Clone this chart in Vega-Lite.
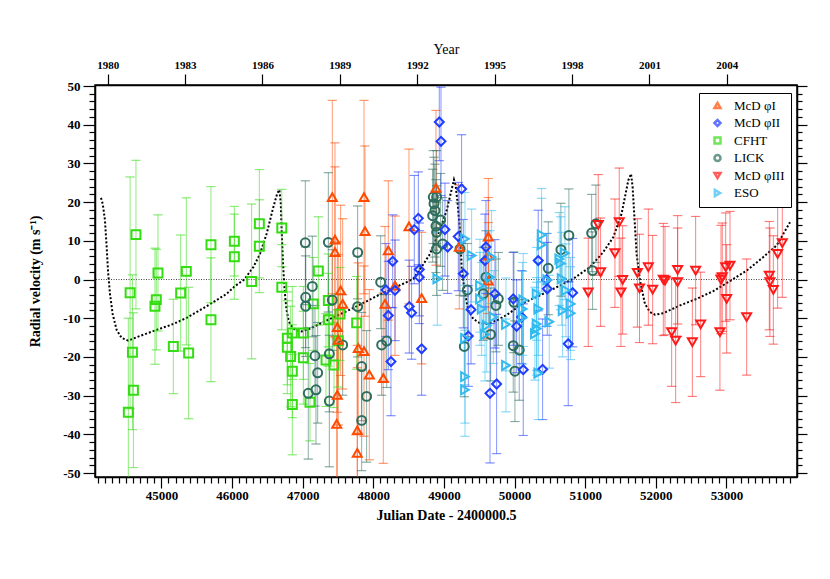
{
  "$schema": "https://vega.github.io/schema/vega-lite/v6.json",
  "width": 702,
  "height": 392,
  "autosize": "none",
  "padding": {"left": 95, "top": 85, "right": 33, "bottom": 102},
  "background": "white",
  "config": {
    "font": "Liberation Serif",
    "view": {"stroke": "black", "strokeWidth": 1.5},
    "axis": {
      "grid": false,
      "domainColor": "black",
      "domainWidth": 1.5,
      "tickColor": "black",
      "tickWidth": 1.2,
      "labelColor": "black",
      "titleColor": "black",
      "labelFont": "Liberation Serif",
      "titleFont": "Liberation Serif"
    }
  },
  "datasets": {
    "obs": [
      {"s": "CFHT", "t": 44532, "v": -34.3, "lo": -58, "hi": -10},
      {"s": "CFHT", "t": 44557, "v": -3.4, "lo": -33.4, "hi": 26.5},
      {"s": "CFHT", "t": 44590, "v": -18.8, "lo": -38.8, "hi": 1.2},
      {"s": "CFHT", "t": 44604, "v": -28.6, "lo": -48.6, "hi": -8.6},
      {"s": "CFHT", "t": 44640, "v": 11.6, "lo": -7.6, "hi": 30.8},
      {"s": "CFHT", "t": 44909, "v": -6.9, "lo": -21.9, "hi": 8.1},
      {"s": "CFHT", "t": 44928, "v": -5.2, "lo": -18.2, "hi": 7.8},
      {"s": "CFHT", "t": 44952, "v": 1.7, "lo": -13.3, "hi": 16.7},
      {"s": "CFHT", "t": 45169, "v": -17.3, "lo": -29.5, "hi": -5.1},
      {"s": "CFHT", "t": 45273, "v": -3.5, "lo": -18.5, "hi": 11.5},
      {"s": "CFHT", "t": 45353, "v": 2.1, "lo": -16.9, "hi": 21.1},
      {"s": "CFHT", "t": 45386, "v": -19.0, "lo": -36.0, "hi": -2.0},
      {"s": "CFHT", "t": 45702, "v": 9.0, "lo": -6.0, "hi": 24.0},
      {"s": "CFHT", "t": 45702, "v": -10.4, "lo": -26.4, "hi": 5.6},
      {"s": "CFHT", "t": 46033, "v": 9.9, "lo": 0.9, "hi": 18.9},
      {"s": "CFHT", "t": 46033, "v": 5.9, "lo": -5.1, "hi": 16.9},
      {"s": "CFHT", "t": 46278, "v": -0.5, "lo": -20.5, "hi": 19.5},
      {"s": "CFHT", "t": 46387, "v": 14.4, "lo": 0.4, "hi": 28.4},
      {"s": "CFHT", "t": 46387, "v": 8.6, "lo": -3.4, "hi": 20.6},
      {"s": "CFHT", "t": 46705, "v": 13.3, "lo": 3.3, "hi": 23.3},
      {"s": "CFHT", "t": 46705, "v": -2.0, "lo": -13.0, "hi": 9.0},
      {"s": "CFHT", "t": 46854, "v": -13.8, "lo": -25.8, "hi": -1.8},
      {"s": "CFHT", "t": 46783, "v": -15.2, "lo": -27.2, "hi": -3.2},
      {"s": "CFHT", "t": 46783, "v": -17.5, "lo": -29.5, "hi": -5.5},
      {"s": "CFHT", "t": 46830, "v": -19.9, "lo": -32.9, "hi": -6.9},
      {"s": "CFHT", "t": 46854, "v": -23.7, "lo": -35.7, "hi": -11.7},
      {"s": "CFHT", "t": 46854, "v": -32.3, "lo": -45.3, "hi": -19.3},
      {"s": "CFHT", "t": 47010, "v": -13.8, "lo": -25.8, "hi": -1.8},
      {"s": "CFHT", "t": 47010, "v": -20.2, "lo": -32.2, "hi": -8.2},
      {"s": "CFHT", "t": 47222, "v": 2.2, "lo": -11.8, "hi": 16.2},
      {"s": "CFHT", "t": 47151, "v": -6.3, "lo": -18.3, "hi": 5.7},
      {"s": "CFHT", "t": 47104, "v": -31.7, "lo": -41.7, "hi": -21.7},
      {"s": "CFHT", "t": 47364, "v": -10.4, "lo": -22.4, "hi": 1.6},
      {"s": "CFHT", "t": 47364, "v": -5.4, "lo": -17.4, "hi": 6.6},
      {"s": "CFHT", "t": 47331, "v": -20.8, "lo": -32.8, "hi": -8.8},
      {"s": "CFHT", "t": 47444, "v": -22.1, "lo": -33.1, "hi": -11.1},
      {"s": "CFHT", "t": 47505, "v": -15.8, "lo": -27.8, "hi": -3.8},
      {"s": "CFHT", "t": 47529, "v": -8.9, "lo": -20.9, "hi": 3.1},
      {"s": "CFHT", "t": 47765, "v": -11.2, "lo": -23.2, "hi": 0.8},
      {"s": "LICK", "t": 47038, "v": 9.5, "lo": -6.5, "hi": 25.5},
      {"s": "LICK", "t": 47137, "v": -1.8, "lo": -14.8, "hi": 11.2},
      {"s": "LICK", "t": 47043, "v": -4.6, "lo": -17.6, "hi": 8.4},
      {"s": "LICK", "t": 47043, "v": -6.9, "lo": -19.9, "hi": 6.1},
      {"s": "LICK", "t": 47175, "v": -19.7, "lo": -32.7, "hi": -6.7},
      {"s": "LICK", "t": 47213, "v": -24.1, "lo": -37.1, "hi": -11.1},
      {"s": "LICK", "t": 47080, "v": -29.4, "lo": -46.4, "hi": -12.4},
      {"s": "LICK", "t": 47189, "v": -28.5, "lo": -42.5, "hi": -14.5},
      {"s": "LICK", "t": 47364, "v": 9.6, "lo": -8.4, "hi": 27.6},
      {"s": "LICK", "t": 47420, "v": -5.3, "lo": -18.3, "hi": 7.7},
      {"s": "LICK", "t": 47378, "v": -19.2, "lo": -34.2, "hi": -4.2},
      {"s": "LICK", "t": 47378, "v": -31.4, "lo": -48.4, "hi": -14.4},
      {"s": "LICK", "t": 47567, "v": -16.9, "lo": -29.9, "hi": -3.9},
      {"s": "LICK", "t": 47779, "v": 7.0, "lo": -5.0, "hi": 19.0},
      {"s": "LICK", "t": 47779, "v": -7.0, "lo": -20.0, "hi": 6.0},
      {"s": "LICK", "t": 47836, "v": -22.5, "lo": -36.5, "hi": -8.5},
      {"s": "LICK", "t": 47906, "v": -30.2, "lo": -47.2, "hi": -13.2},
      {"s": "LICK", "t": 47836, "v": -36.4, "lo": -49.4, "hi": -23.4},
      {"s": "LICK", "t": 48105, "v": -0.7, "lo": -12.7, "hi": 11.3},
      {"s": "LICK", "t": 48119, "v": -16.9, "lo": -29.9, "hi": -3.9},
      {"s": "LICK", "t": 48190, "v": -15.9, "lo": -27.9, "hi": -3.9},
      {"s": "LICK", "t": 48841, "v": 16.5, "lo": 4.5, "hi": 28.5},
      {"s": "LICK", "t": 48850, "v": 21.3, "lo": 9.3, "hi": 33.3},
      {"s": "LICK", "t": 48860, "v": 19.6, "lo": 7.6, "hi": 31.6},
      {"s": "LICK", "t": 48874, "v": 17.8, "lo": 5.8, "hi": 29.8},
      {"s": "LICK", "t": 48888, "v": 13.8, "lo": 1.8, "hi": 25.8},
      {"s": "LICK", "t": 48897, "v": 21.3, "lo": 9.3, "hi": 33.3},
      {"s": "LICK", "t": 48897, "v": 12.2, "lo": 0.2, "hi": 24.2},
      {"s": "LICK", "t": 48897, "v": 7.9, "lo": -4.1, "hi": 19.9},
      {"s": "LICK", "t": 48954, "v": 15.4, "lo": 3.4, "hi": 27.4},
      {"s": "LICK", "t": 48982, "v": 9.2, "lo": -2.8, "hi": 21.2},
      {"s": "LICK", "t": 49228, "v": 7.9, "lo": -4.1, "hi": 19.9},
      {"s": "LICK", "t": 49332, "v": -2.7, "lo": -14.7, "hi": 9.3},
      {"s": "LICK", "t": 49289, "v": -17.3, "lo": -30.3, "hi": -4.3},
      {"s": "LICK", "t": 49558, "v": -3.7, "lo": -15.7, "hi": 8.3},
      {"s": "LICK", "t": 49596, "v": 0.6, "lo": -11.4, "hi": 12.6},
      {"s": "LICK", "t": 49662, "v": -14.2, "lo": -26.2, "hi": -2.2},
      {"s": "LICK", "t": 49737, "v": -6.7, "lo": -18.7, "hi": 5.3},
      {"s": "LICK", "t": 49771, "v": -5.0, "lo": -17.0, "hi": 7.0},
      {"s": "LICK", "t": 49992, "v": -5.9, "lo": -18.9, "hi": 7.1},
      {"s": "LICK", "t": 49982, "v": -17.1, "lo": -29.1, "hi": -5.1},
      {"s": "LICK", "t": 50067, "v": -18.2, "lo": -31.2, "hi": -5.2},
      {"s": "LICK", "t": 50006, "v": -23.7, "lo": -36.7, "hi": -10.7},
      {"s": "LICK", "t": 50478, "v": 2.9, "lo": -9.1, "hi": 14.9},
      {"s": "LICK", "t": 50657, "v": 7.7, "lo": -4.3, "hi": 19.7},
      {"s": "LICK", "t": 50770, "v": 11.4, "lo": -0.6, "hi": 23.4},
      {"s": "LICK", "t": 51092, "v": 12.0, "lo": 2.0, "hi": 22.0},
      {"s": "LICK", "t": 51153, "v": 14.4, "lo": 4.4, "hi": 24.4},
      {"s": "LICK", "t": 51106, "v": 2.3, "lo": -7.7, "hi": 12.3},
      {"s": "McD φI", "t": 47420, "v": 21.3, "lo": -3.7, "hi": 46.3},
      {"s": "McD φI", "t": 47869, "v": 21.3, "lo": -3.7, "hi": 46.3},
      {"s": "McD φI", "t": 47458, "v": 10.3, "lo": -14.7, "hi": 35.3},
      {"s": "McD φI", "t": 47458, "v": 7.1, "lo": -14.9, "hi": 29.1},
      {"s": "McD φI", "t": 47883, "v": 12.5, "lo": -9.5, "hi": 34.5},
      {"s": "McD φI", "t": 47538, "v": -2.8, "lo": -24.8, "hi": 19.2},
      {"s": "McD φI", "t": 47567, "v": -6.3, "lo": -28.3, "hi": 15.7},
      {"s": "McD φI", "t": 47491, "v": -12.3, "lo": -34.3, "hi": 9.7},
      {"s": "McD φI", "t": 47505, "v": -15.6, "lo": -37.6, "hi": 6.4},
      {"s": "McD φI", "t": 47491, "v": -29.8, "lo": -51.8, "hi": -7.8},
      {"s": "McD φI", "t": 47482, "v": -37.3, "lo": -59.3, "hi": -15.3},
      {"s": "McD φI", "t": 47788, "v": -17.7, "lo": -39.7, "hi": 4.3},
      {"s": "McD φI", "t": 47869, "v": -18.5, "lo": -40.5, "hi": 3.5},
      {"s": "McD φI", "t": 47944, "v": -24.6, "lo": -46.6, "hi": -2.6},
      {"s": "McD φI", "t": 47774, "v": -39.0, "lo": -61.0, "hi": -17.0},
      {"s": "McD φI", "t": 47774, "v": -44.8, "lo": -66.8, "hi": -22.8},
      {"s": "McD φI", "t": 48213, "v": 7.5, "lo": -10.5, "hi": 25.5},
      {"s": "McD φI", "t": 48308, "v": -1.6, "lo": -19.6, "hi": 16.4},
      {"s": "McD φI", "t": 48166, "v": -6.3, "lo": -26.3, "hi": 13.7},
      {"s": "McD φI", "t": 48142, "v": -25.5, "lo": -47.5, "hi": -3.5},
      {"s": "McD φI", "t": 48506, "v": 13.7, "lo": -6.3, "hi": 33.7},
      {"s": "McD φI", "t": 48685, "v": -4.8, "lo": -21.8, "hi": 12.2},
      {"s": "McD φI", "t": 48888, "v": 23.7, "lo": 3.7, "hi": 43.7},
      {"s": "McD φI", "t": 49218, "v": 8.4, "lo": -7.6, "hi": 24.4},
      {"s": "McD φI", "t": 49629, "v": 11.1, "lo": -3.9, "hi": 26.1},
      {"s": "McD φI", "t": 49629, "v": 6.2, "lo": -8.8, "hi": 21.2},
      {"s": "McD φI", "t": 49629, "v": -0.3, "lo": -15.3, "hi": 14.7},
      {"s": "McD φII", "t": 48180, "v": -2.7, "lo": -14.7, "hi": 9.3},
      {"s": "McD φII", "t": 48275, "v": 4.7, "lo": -7.3, "hi": 16.7},
      {"s": "McD φII", "t": 48308, "v": -2.8, "lo": -15.8, "hi": 10.2},
      {"s": "McD φII", "t": 48213, "v": -9.3, "lo": -23.3, "hi": 4.7},
      {"s": "McD φII", "t": 48251, "v": -21.2, "lo": -35.2, "hi": -7.2},
      {"s": "McD φII", "t": 48581, "v": 12.9, "lo": -1.1, "hi": 26.9},
      {"s": "McD φII", "t": 48638, "v": 15.8, "lo": 3.8, "hi": 27.8},
      {"s": "McD φII", "t": 48652, "v": 2.6, "lo": -9.4, "hi": 14.6},
      {"s": "McD φII", "t": 48652, "v": 0.6, "lo": -11.4, "hi": 12.6},
      {"s": "McD φII", "t": 48510, "v": -7.0, "lo": -19.0, "hi": 5.0},
      {"s": "McD φII", "t": 48543, "v": -8.6, "lo": -20.6, "hi": 3.4},
      {"s": "McD φII", "t": 48685, "v": -17.9, "lo": -29.9, "hi": -5.9},
      {"s": "McD φII", "t": 48935, "v": 40.7, "lo": 30.7, "hi": 50.7},
      {"s": "McD φII", "t": 48959, "v": 35.7, "lo": 21.7, "hi": 49.7},
      {"s": "McD φII", "t": 49015, "v": 12.9, "lo": 0.9, "hi": 24.9},
      {"s": "McD φII", "t": 49053, "v": 8.4, "lo": -3.6, "hi": 20.4},
      {"s": "McD φII", "t": 49251, "v": 23.4, "lo": 9.4, "hi": 37.4},
      {"s": "McD φII", "t": 49204, "v": 11.1, "lo": -2.9, "hi": 25.1},
      {"s": "McD φII", "t": 49275, "v": 1.5, "lo": -12.5, "hi": 15.5},
      {"s": "McD φII", "t": 49384, "v": -7.8, "lo": -21.8, "hi": 6.2},
      {"s": "McD φII", "t": 49346, "v": -14.6, "lo": -27.6, "hi": -1.6},
      {"s": "McD φII", "t": 49596, "v": 8.4, "lo": -3.6, "hi": 20.4},
      {"s": "McD φII", "t": 49582, "v": 4.9, "lo": -7.1, "hi": 16.9},
      {"s": "McD φII", "t": 49653, "v": -29.4, "lo": -47.4, "hi": -11.4},
      {"s": "McD φII", "t": 49747, "v": -27.0, "lo": -45.0, "hi": -9.0},
      {"s": "McD φII", "t": 49723, "v": -3.7, "lo": -17.7, "hi": 10.3},
      {"s": "McD φII", "t": 49982, "v": -5.0, "lo": -17.0, "hi": 7.0},
      {"s": "McD φII", "t": 50030, "v": -12.1, "lo": -24.1, "hi": -0.1},
      {"s": "McD φII", "t": 50100, "v": -9.7, "lo": -21.7, "hi": 2.3},
      {"s": "McD φII", "t": 50124, "v": -23.3, "lo": -40.3, "hi": -6.3},
      {"s": "McD φII", "t": 50336, "v": 4.9, "lo": -8.1, "hi": 17.9},
      {"s": "McD φII", "t": 50454, "v": -0.1, "lo": -12.1, "hi": 11.9},
      {"s": "McD φII", "t": 50464, "v": -2.4, "lo": -14.4, "hi": 9.6},
      {"s": "McD φII", "t": 50398, "v": -23.2, "lo": -36.2, "hi": -10.2},
      {"s": "McD φII", "t": 50761, "v": -16.6, "lo": -32.6, "hi": -0.6},
      {"s": "McD φII", "t": 50823, "v": -3.4, "lo": -17.4, "hi": 10.6},
      {"s": "ESO", "t": 48907, "v": 0.2, "lo": -11.8, "hi": 12.2},
      {"s": "ESO", "t": 49299, "v": 10.5, "lo": -1.5, "hi": 22.5},
      {"s": "ESO", "t": 49393, "v": 6.2, "lo": -5.8, "hi": 18.2},
      {"s": "ESO", "t": 49299, "v": -15.2, "lo": -27.2, "hi": -3.2},
      {"s": "ESO", "t": 49299, "v": -25.1, "lo": -37.1, "hi": -13.1},
      {"s": "ESO", "t": 49299, "v": -28.5, "lo": -40.5, "hi": -16.5},
      {"s": "ESO", "t": 49511, "v": -1.6, "lo": -13.6, "hi": 10.4},
      {"s": "ESO", "t": 49511, "v": -5.0, "lo": -17.0, "hi": 7.0},
      {"s": "ESO", "t": 49535, "v": -7.6, "lo": -19.6, "hi": 4.4},
      {"s": "ESO", "t": 49606, "v": -11.9, "lo": -23.9, "hi": 0.1},
      {"s": "ESO", "t": 49582, "v": -14.2, "lo": -26.2, "hi": -2.2},
      {"s": "ESO", "t": 49676, "v": 5.8, "lo": -6.2, "hi": 17.8},
      {"s": "ESO", "t": 49653, "v": 0.6, "lo": -11.4, "hi": 12.6},
      {"s": "ESO", "t": 49700, "v": -9.7, "lo": -21.7, "hi": 2.3},
      {"s": "ESO", "t": 49879, "v": -11.6, "lo": -23.6, "hi": 0.4},
      {"s": "ESO", "t": 49879, "v": -22.2, "lo": -34.2, "hi": -10.2},
      {"s": "ESO", "t": 50124, "v": -5.3, "lo": -17.3, "hi": 6.7},
      {"s": "ESO", "t": 50115, "v": -7.6, "lo": -19.6, "hi": 4.4},
      {"s": "ESO", "t": 50115, "v": -9.9, "lo": -21.9, "hi": 2.1},
      {"s": "ESO", "t": 50313, "v": -3.7, "lo": -15.7, "hi": 8.3},
      {"s": "ESO", "t": 50336, "v": -7.6, "lo": -19.6, "hi": 4.4},
      {"s": "ESO", "t": 50313, "v": -11.5, "lo": -23.5, "hi": 0.5},
      {"s": "ESO", "t": 50313, "v": -12.7, "lo": -24.7, "hi": -0.7},
      {"s": "ESO", "t": 50289, "v": -14.0, "lo": -26.0, "hi": -2.0},
      {"s": "ESO", "t": 50336, "v": -24.2, "lo": -36.2, "hi": -12.2},
      {"s": "ESO", "t": 50384, "v": 11.5, "lo": -0.5, "hi": 23.5},
      {"s": "ESO", "t": 50384, "v": 9.0, "lo": -3.0, "hi": 21.0},
      {"s": "ESO", "t": 50464, "v": -0.1, "lo": -12.1, "hi": 11.9},
      {"s": "ESO", "t": 50492, "v": -10.9, "lo": -22.9, "hi": 1.1},
      {"s": "ESO", "t": 50634, "v": 5.3, "lo": -6.7, "hi": 17.3},
      {"s": "ESO", "t": 50653, "v": 4.2, "lo": -7.8, "hi": 16.2},
      {"s": "ESO", "t": 50714, "v": 6.8, "lo": -5.2, "hi": 18.8},
      {"s": "ESO", "t": 50667, "v": 0.2, "lo": -11.8, "hi": 12.2},
      {"s": "ESO", "t": 50728, "v": -2.8, "lo": -14.8, "hi": 9.2},
      {"s": "ESO", "t": 50681, "v": -8.0, "lo": -20.0, "hi": 4.0},
      {"s": "ESO", "t": 50794, "v": -6.3, "lo": -18.3, "hi": 5.7},
      {"s": "ESO", "t": 50794, "v": -8.7, "lo": -20.7, "hi": 3.3},
      {"s": "McD φIII", "t": 51044, "v": -3.3, "lo": -17.3, "hi": 10.7},
      {"s": "McD φIII", "t": 51186, "v": 14.1, "lo": 1.1, "hi": 27.1},
      {"s": "McD φIII", "t": 51219, "v": 1.9, "lo": -12.1, "hi": 15.9},
      {"s": "McD φIII", "t": 51422, "v": 6.8, "lo": -7.2, "hi": 20.8},
      {"s": "McD φIII", "t": 51483, "v": 14.8, "lo": 0.8, "hi": 28.8},
      {"s": "McD φIII", "t": 51531, "v": -0.1, "lo": -14.1, "hi": 13.9},
      {"s": "McD φIII", "t": 51507, "v": -3.3, "lo": -17.3, "hi": 10.7},
      {"s": "McD φIII", "t": 51740, "v": 1.7, "lo": -12.3, "hi": 15.7},
      {"s": "McD φIII", "t": 51770, "v": -2.3, "lo": -16.3, "hi": 11.7},
      {"s": "McD φIII", "t": 51895, "v": 3.2, "lo": -11.8, "hi": 18.2},
      {"s": "McD φIII", "t": 51956, "v": -2.6, "lo": -16.6, "hi": 11.4},
      {"s": "McD φIII", "t": 52107, "v": 0.0, "lo": -14.5, "hi": 14.5},
      {"s": "McD φIII", "t": 52131, "v": -0.3, "lo": -14.3, "hi": 13.7},
      {"s": "McD φIII", "t": 52225, "v": -13.6, "lo": -27.6, "hi": 0.4},
      {"s": "McD φIII", "t": 52282, "v": -15.8, "lo": -31.8, "hi": 0.2},
      {"s": "McD φIII", "t": 52310, "v": 2.5, "lo": -11.5, "hi": 16.5},
      {"s": "McD φIII", "t": 52310, "v": -0.7, "lo": -14.7, "hi": 13.3},
      {"s": "McD φIII", "t": 52518, "v": -16.2, "lo": -30.2, "hi": -2.2},
      {"s": "McD φIII", "t": 52565, "v": 2.3, "lo": -11.7, "hi": 16.3},
      {"s": "McD φIII", "t": 52636, "v": -11.6, "lo": -25.1, "hi": 1.9},
      {"s": "McD φIII", "t": 52909, "v": -13.6, "lo": -28.6, "hi": 1.4},
      {"s": "McD φIII", "t": 52924, "v": 0.0, "lo": -14.0, "hi": 14.0},
      {"s": "McD φIII", "t": 52942, "v": 0.6, "lo": -13.4, "hi": 14.6},
      {"s": "McD φIII", "t": 52990, "v": 3.2, "lo": -10.8, "hi": 17.2},
      {"s": "McD φIII", "t": 53051, "v": 3.6, "lo": -10.4, "hi": 17.6},
      {"s": "McD φIII", "t": 53004, "v": -5.0, "lo": -19.0, "hi": 9.0},
      {"s": "McD φIII", "t": 53287, "v": -9.7, "lo": -24.7, "hi": 5.3},
      {"s": "McD φIII", "t": 53608, "v": 1.0, "lo": -13.0, "hi": 15.0},
      {"s": "McD φIII", "t": 53617, "v": -0.7, "lo": -14.7, "hi": 13.3},
      {"s": "McD φIII", "t": 53665, "v": -2.7, "lo": -16.7, "hi": 11.3},
      {"s": "McD φIII", "t": 53726, "v": 6.6, "lo": -7.4, "hi": 20.6},
      {"s": "McD φIII", "t": 53792, "v": 9.4, "lo": -4.6, "hi": 23.4}
    ],
    "model": [
      {"t": 44145, "v": 21.1}, {"t": 44170, "v": 19.5}, {"t": 44200, "v": 15.5},
      {"t": 44225, "v": 8.5}, {"t": 44245, "v": 2.0}, {"t": 44272, "v": -3.7},
      {"t": 44310, "v": -8.9}, {"t": 44366, "v": -13.0}, {"t": 44437, "v": -15.1},
      {"t": 44532, "v": -15.8}, {"t": 44650, "v": -14.9}, {"t": 44800, "v": -13.9},
      {"t": 44933, "v": -13.0}, {"t": 45169, "v": -11.5}, {"t": 45358, "v": -9.9},
      {"t": 45540, "v": -8.0}, {"t": 45712, "v": -6.1}, {"t": 45924, "v": -3.7},
      {"t": 46042, "v": -1.7}, {"t": 46174, "v": 0.0}, {"t": 46302, "v": 3.2},
      {"t": 46396, "v": 6.6}, {"t": 46490, "v": 11.8}, {"t": 46585, "v": 18.7},
      {"t": 46640, "v": 22.2}, {"t": 46670, "v": 23.2}, {"t": 46690, "v": 20.0},
      {"t": 46703, "v": 12.7}, {"t": 46720, "v": 5.0}, {"t": 46736, "v": -0.3},
      {"t": 46755, "v": -5.0}, {"t": 46774, "v": -8.0}, {"t": 46800, "v": -10.4},
      {"t": 46821, "v": -11.5}, {"t": 46892, "v": -13.0}, {"t": 46986, "v": -13.4},
      {"t": 47104, "v": -12.7}, {"t": 47340, "v": -10.6}, {"t": 47576, "v": -8.6},
      {"t": 47812, "v": -6.5}, {"t": 48048, "v": -4.3}, {"t": 48284, "v": -2.2},
      {"t": 48450, "v": -0.9}, {"t": 48567, "v": 0.2}, {"t": 48662, "v": 2.6},
      {"t": 48803, "v": 6.6}, {"t": 48921, "v": 11.8}, {"t": 49039, "v": 17.8},
      {"t": 49100, "v": 22.5}, {"t": 49143, "v": 25.8}, {"t": 49165, "v": 24.5},
      {"t": 49190, "v": 20.5}, {"t": 49228, "v": 12.7}, {"t": 49251, "v": 3.2},
      {"t": 49299, "v": -3.7}, {"t": 49346, "v": -8.0}, {"t": 49417, "v": -10.2},
      {"t": 49511, "v": -11.3}, {"t": 49605, "v": -11.5}, {"t": 49747, "v": -10.6},
      {"t": 49888, "v": -9.2}, {"t": 50124, "v": -6.1}, {"t": 50360, "v": -4.1},
      {"t": 50596, "v": -2.0}, {"t": 50832, "v": 0.2}, {"t": 51068, "v": 3.2},
      {"t": 51257, "v": 7.1}, {"t": 51398, "v": 10.9}, {"t": 51516, "v": 17.0},
      {"t": 51611, "v": 25.6}, {"t": 51650, "v": 27.3}, {"t": 51672, "v": 24.0},
      {"t": 51695, "v": 17.0}, {"t": 51729, "v": 6.6}, {"t": 51777, "v": -0.3},
      {"t": 51847, "v": -6.3}, {"t": 51918, "v": -8.4}, {"t": 51989, "v": -9.1},
      {"t": 52107, "v": -8.7}, {"t": 52343, "v": -6.7}, {"t": 52579, "v": -5.0},
      {"t": 52815, "v": -3.0}, {"t": 53051, "v": -0.4}, {"t": 53287, "v": 2.3},
      {"t": 53523, "v": 5.8}, {"t": 53712, "v": 8.8}, {"t": 53901, "v": 14.8}
    ]
  },
  "layer": [
    {
      "data": {"values": [{"zero": 0}]},
      "mark": {"type": "rule", "color": "#444444", "strokeDash": [1, 1.5], "strokeWidth": 1.2},
      "encoding": {
        "y": {"field": "zero", "type": "quantitative", "scale": {"domain": [-51.03, 50.26], "nice": false, "zero": false}, "axis": null}
      }
    },
    {
      "data": {"name": "model"},
      "mark": {"type": "line", "color": "black", "strokeDash": [2, 2], "strokeWidth": 2, "clip": true},
      "encoding": {
        "x": {
          "field": "t", "type": "quantitative",
          "scale": {"domain": [44060, 54000], "nice": false, "zero": false},
          "axis": {
            "orient": "bottom",
            "values": [45000, 46000, 47000, 48000, 49000, 50000, 51000, 52000, 53000],
            "format": "d",
            "tickSize": 11,
            "labelFontSize": 13,
            "labelFontWeight": "bold",
            "labelPadding": 1,
            "title": "Julian Date - 2400000.5",
            "titleFontSize": 14,
            "titleFontWeight": "bold",
            "titlePadding": 6
          }
        },
        "y": {
          "field": "v", "type": "quantitative",
          "scale": {"domain": [-51.03, 50.26], "nice": false, "zero": false},
          "axis": {
            "orient": "left",
            "values": [-50, -40, -30, -20, -10, 0, 10, 20, 30, 40, 50],
            "labelExpr": "toString(datum.value)",
            "tickSize": 12,
            "labelFontSize": 13,
            "labelFontWeight": "bold",
            "labelPadding": 3,
            "title": "Radial velocity (m s⁻¹)",
            "titleFontSize": 14,
            "titleFontWeight": "bold",
            "titlePadding": 20
          }
        }
      }
    },
    {
      "data": {"name": "obs"},
      "mark": {"type": "rule", "strokeWidth": 1, "strokeOpacity": 0.55, "clip": true},
      "encoding": {
        "x": {
          "field": "t", "type": "quantitative",
          "scale": {"domain": [44060, 54000], "nice": false, "zero": false},
          "axis": {
            "orient": "bottom",
            "values": [44100, 44200, 44300, 44400, 44500, 44600, 44700, 44800, 44900,
              45100, 45200, 45300, 45400, 45500, 45600, 45700, 45800, 45900,
              46100, 46200, 46300, 46400, 46500, 46600, 46700, 46800, 46900,
              47100, 47200, 47300, 47400, 47500, 47600, 47700, 47800, 47900,
              48100, 48200, 48300, 48400, 48500, 48600, 48700, 48800, 48900,
              49100, 49200, 49300, 49400, 49500, 49600, 49700, 49800, 49900,
              50100, 50200, 50300, 50400, 50500, 50600, 50700, 50800, 50900,
              51100, 51200, 51300, 51400, 51500, 51600, 51700, 51800, 51900,
              52100, 52200, 52300, 52400, 52500, 52600, 52700, 52800, 52900,
              53100, 53200, 53300, 53400, 53500, 53600, 53700, 53800, 53900],
            "tickSize": 6,
            "labels": false,
            "domain": false,
            "title": null
          }
        },
        "y": {
          "field": "lo", "type": "quantitative",
          "scale": {"domain": [-51.03, 50.26], "nice": false, "zero": false},
          "axis": {
            "orient": "left",
            "values": [-48, -46, -44, -42, -38, -36, -34, -32, -28, -26, -24, -22, -18, -16, -14, -12, -8, -6, -4, -2,
              2, 4, 6, 8, 12, 14, 16, 18, 22, 24, 26, 28, 32, 34, 36, 38, 42, 44, 46, 48],
            "tickSize": 6,
            "labels": false,
            "domain": false,
            "title": null
          }
        },
        "y2": {"field": "hi"},
        "color": {
          "field": "s", "type": "nominal",
          "scale": {"domain": ["McD φI", "McD φII", "CFHT", "LICK", "McD φIII", "ESO"], "range": ["#FF4A00", "#1F3CFF", "#33DD11", "#2E6E5E", "#FF1A1A", "#33BBF0"]}
        }
      }
    },
    {
      "data": {"name": "obs"},
      "mark": {"type": "tick", "orient": "horizontal", "filled": false, "size": 9, "thickness": 0.2, "strokeWidth": 1, "strokeOpacity": 0.55, "clip": true},
      "encoding": {
        "x": {
          "field": "t", "type": "quantitative",
          "scale": {"domain": [44060, 54000], "nice": false, "zero": false},
          "axis": {
            "orient": "top",
            "values": [44239, 45334, 46430, 47527, 48622, 49718, 50814, 51910, 53005],
            "labelExpr": "format(round(1980 + (datum.value - 44239) / 365.25), 'd')",
            "tickSize": 11,
            "labelFontSize": 11,
            "labelFontWeight": "bold",
            "labelPadding": 4,
            "title": "Year",
            "titleFontSize": 14,
            "titleFontWeight": "normal",
            "titlePadding": 3
          }
        },
        "y": {
          "field": "lo", "type": "quantitative",
          "scale": {"domain": [-51.03, 50.26], "nice": false, "zero": false},
          "axis": {
            "orient": "right",
            "values": [-50, -40, -30, -20, -10, 0, 10, 20, 30, 40, 50],
            "tickSize": 10,
            "labels": false,
            "title": null
          }
        },
        "color": {"field": "s", "type": "nominal"}
      }
    },
    {
      "data": {"name": "obs"},
      "mark": {"type": "tick", "orient": "horizontal", "filled": false, "size": 9, "thickness": 0.2, "strokeWidth": 1, "strokeOpacity": 0.55, "clip": true},
      "encoding": {
        "x": {"field": "t", "type": "quantitative", "scale": {"domain": [44060, 54000], "nice": false, "zero": false}, "axis": null},
        "y": {
          "field": "hi", "type": "quantitative",
          "scale": {"domain": [-51.03, 50.26], "nice": false, "zero": false},
          "axis": {
            "orient": "right",
            "values": [-48, -46, -44, -42, -38, -36, -34, -32, -28, -26, -24, -22, -18, -16, -14, -12, -8, -6, -4, -2,
              2, 4, 6, 8, 12, 14, 16, 18, 22, 24, 26, 28, 32, 34, 36, 38, 42, 44, 46, 48],
            "tickSize": 5,
            "labels": false,
            "domain": false,
            "title": null
          }
        },
        "color": {"field": "s", "type": "nominal"}
      }
    },
    {
      "data": {"name": "obs"},
      "mark": {"type": "point", "filled": false, "strokeWidth": 2, "size": 80, "opacity": 1, "clip": true},
      "encoding": {
        "x": {"field": "t", "type": "quantitative", "scale": {"domain": [44060, 54000], "nice": false, "zero": false}, "axis": null},
        "y": {"field": "v", "type": "quantitative", "scale": {"domain": [-51.03, 50.26], "nice": false, "zero": false}, "axis": null},
        "color": {
          "field": "s", "type": "nominal",
          "legend": {
            "title": null,
            "orient": "none",
            "legendX": 604,
            "legendY": 8,
            "strokeColor": "black",
            "fillColor": "white",
            "padding": 6,
            "symbolSize": 36,
            "symbolStrokeWidth": 2.5,
            "symbolOpacity": 1,
            "symbolOffset": 6,
            "labelOffset": 10,
            "labelFontSize": 13,
            "labelFont": "Liberation Serif",
            "labelColor": "black",
            "rowPadding": 0.5
          }
        },
        "shape": {
          "field": "s", "type": "nominal",
          "scale": {"domain": ["McD φI", "McD φII", "CFHT", "LICK", "McD φIII", "ESO"], "range": ["triangle-up", "diamond", "square", "circle", "triangle-down", "triangle-right"]},
          "legend": {"title": null}
        }
      }
    }
  ],
  "resolve": {"axis": {"x": "independent", "y": "independent"}}
}
